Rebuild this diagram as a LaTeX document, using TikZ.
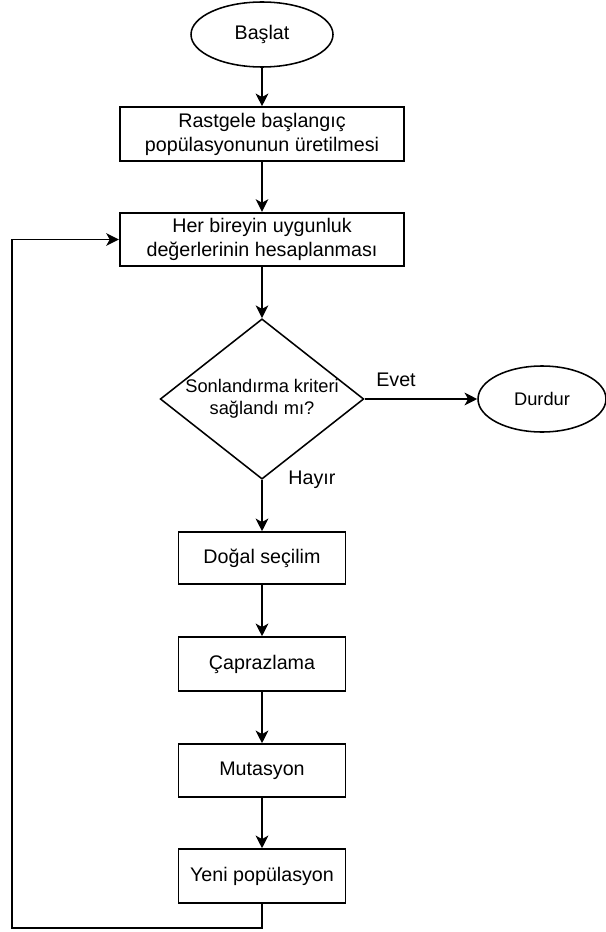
\documentclass[tikz,border=0pt]{standalone}
\usepackage{fontspec}
\setmainfont{Liberation Sans}
\usetikzlibrary{shapes.geometric,arrows.meta}
\begin{document}
\begin{tikzpicture}[
	proc/.style={draw, line width=1.1pt, align=center, inner sep=2pt, font=\fontsize{14}{17}\selectfont},
	term/.style={draw, ellipse, line width=1.1pt, inner sep=0pt},
	flow/.style={line width=1.1pt, -{Stealth[length=9pt, width=9pt, inset=2.5pt]}},
	lbl/.style={font=\fontsize{14}{17}\selectfont}
]
	\useasboundingbox (0,0) rectangle (15.125,-23.3);

	\node[term, minimum width=3.55cm, minimum height=1.625cm, font=\fontsize{14}{17}\selectfont] (baslat) at (6.55,-0.8625) {Başlat};
	\node[proc, minimum width=7.1cm, minimum height=1.35cm] (rastgele) at (6.55,-3.35) {Rastgele başlangıç\\popülasyonunun üretilmesi};
	\node[proc, line width=1.6pt, minimum width=7.1cm, minimum height=1.325cm] (uygunluk) at (6.55,-5.9875) {Her bireyin uygunluk\\değerlerinin hesaplanması};
	\node[draw, diamond, line width=1.1pt, aspect=1.27, inner sep=0pt, minimum width=5cm, minimum height=3.95cm, align=center, font=\fontsize{13}{16}\selectfont] (kriter) at (6.55,-9.975) {Sonlandırma kriteri\\sağlandı mı?};
	\node[term, minimum width=3.2cm, minimum height=1.65cm, font=\fontsize{13}{15}\selectfont] (durdur) at (13.55,-9.975) {Durdur};
	\node[proc, minimum width=4.175cm, minimum height=1.3cm] (secilim) at (6.55,-13.95) {Doğal seçilim};
	\node[proc, minimum width=4.175cm, minimum height=1.35cm] (capraz) at (6.55,-16.6) {Çaprazlama};
	\node[proc, minimum width=4.175cm, minimum height=1.325cm] (mutasyon) at (6.55,-19.2625) {Mutasyon};
	\node[proc, minimum width=4.175cm, minimum height=1.35cm] (yeni) at (6.55,-21.9) {Yeni popülasyon};

	\node[lbl] (evet) at (9.9,-9.5) {Evet};
	\node[lbl] (hayir) at (7.8,-12.0) {Hayır};
	\coordinate (donus) at (0.3,-23.2);

	\draw[flow] (baslat) -- (rastgele);
	\draw[flow] (rastgele) -- (uygunluk);
	\draw[flow] (uygunluk) -- (kriter);
	\draw[flow] (kriter) -- (durdur);
	\draw[flow] (kriter) -- (secilim);
	\draw[flow] (secilim) -- (capraz);
	\draw[flow] (capraz) -- (mutasyon);
	\draw[flow] (mutasyon) -- (yeni);
	\draw[flow] (yeni.south) |- (donus) |- (uygunluk.west);
\end{tikzpicture}
\end{document}
